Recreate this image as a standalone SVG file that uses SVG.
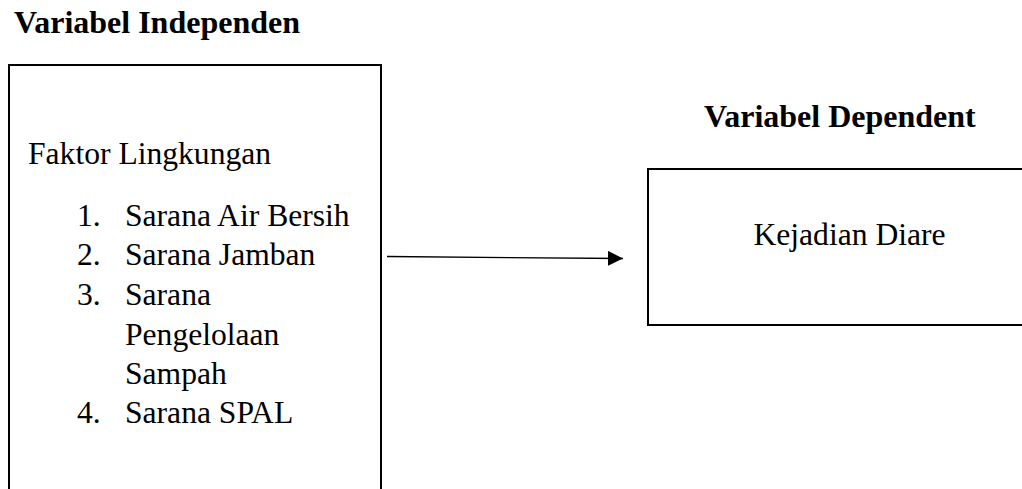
<svg xmlns="http://www.w3.org/2000/svg" width="1022" height="489" viewBox="0 0 1022 489">
<style>
.t{font-family:"Liberation Serif","Times New Roman",serif;fill:#000}
.b{font-weight:bold;font-size:32px}
.r{font-size:31.6px}
.box{fill:none;stroke:#000;stroke-width:2}
</style>
<defs>
<marker id="ah" markerWidth="15" markerHeight="15" refX="15" refY="7.5" orient="auto" markerUnits="userSpaceOnUse">
<path d="M0,0 L15,7.5 L0,15 Z" fill="#000"/>
</marker>
</defs>
<rect width="1022" height="489" fill="#fff"/>
<text class="t b" x="14" y="33">Variabel Independen</text>
<text class="t b" x="704" y="127">Variabel Dependent</text>
<g id="node-independen">
<rect class="box" x="9" y="65" width="372" height="440"/>
<text class="t r" x="28" y="164">Faktor Lingkungan</text>
<text class="t r" x="77" y="226">1.</text><text class="t r" x="125" y="226">Sarana Air Bersih</text>
<text class="t r" x="77" y="265">2.</text><text class="t r" x="125" y="265">Sarana Jamban</text>
<text class="t r" x="77" y="305">3.</text><text class="t r" x="125" y="305">Sarana</text>
<text class="t r" x="125" y="345">Pengelolaan</text>
<text class="t r" x="125" y="384">Sampah</text>
<text class="t r" x="77" y="423">4.</text><text class="t r" x="125" y="423">Sarana SPAL</text>
</g>
<g id="node-dependent">
<rect class="box" x="648" y="169" width="390" height="156"/>
<text class="t r" x="849.5" y="245" text-anchor="middle">Kejadian Diare</text>
</g>
<g id="connectors">
<line x1="387" y1="256.5" x2="623" y2="258.5" stroke="#000" stroke-width="1.3" marker-end="url(#ah)"/>
</g>
</svg>
